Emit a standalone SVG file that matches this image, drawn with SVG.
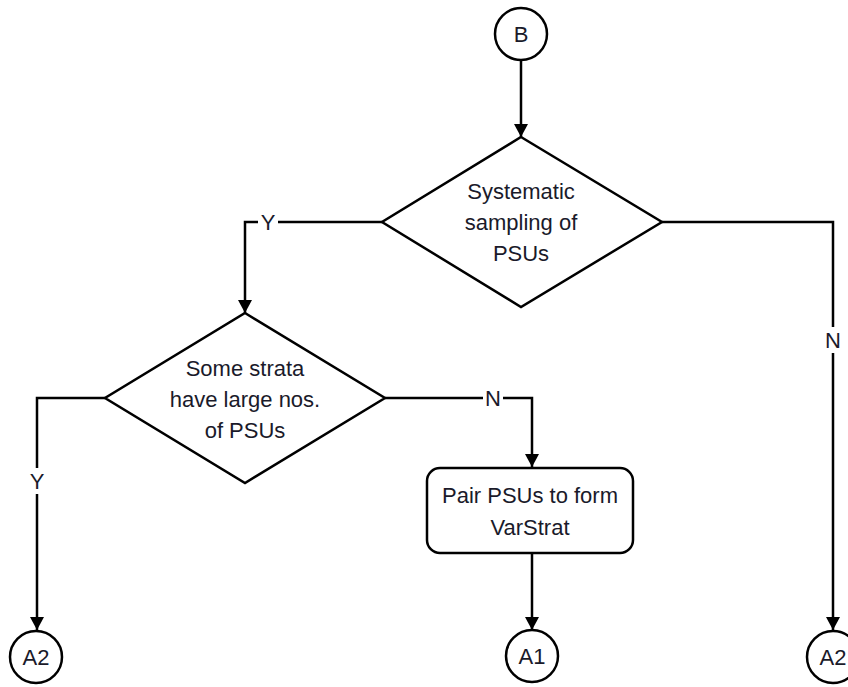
<svg xmlns="http://www.w3.org/2000/svg" width="848" height="687" viewBox="0 0 848 687">
<style>
.shape{fill:#fff;stroke:#000;stroke-width:2.5}
.conn{fill:none;stroke:#000;stroke-width:2.5}
text{font-family:"Liberation Sans",Arial,sans-serif;font-size:22px;fill:#1a1a2a;text-anchor:middle;dominant-baseline:central}
.lbl{fill:#fff;stroke:none}
</style>
<defs>
<marker id="arr" markerUnits="userSpaceOnUse" markerWidth="14" markerHeight="14" refX="13" refY="7" orient="auto">
<path d="M0,0 L13,7 L0,14 z" fill="#000"/>
</marker>
</defs>
<g id="connectors">
<path class="conn" d="M521,60 V137" marker-end="url(#arr)"/>
<path class="conn" d="M382,222 H245 V313" marker-end="url(#arr)"/>
<path class="conn" d="M662,222 H833 V630" marker-end="url(#arr)"/>
<path class="conn" d="M105,398 H37 V630" marker-end="url(#arr)"/>
<path class="conn" d="M385,398 H532 V467" marker-end="url(#arr)"/>
<path class="conn" d="M532,553 V630" marker-end="url(#arr)"/>
<rect class="lbl" x="258" y="209" width="20" height="26"/>
<text x="268" y="222">Y</text>
<rect class="lbl" x="823" y="327" width="20" height="26"/>
<text x="833" y="340">N</text>
<rect class="lbl" x="27" y="468" width="20" height="26"/>
<text x="37" y="481">Y</text>
<rect class="lbl" x="483" y="385" width="20" height="26"/>
<text x="493" y="398">N</text>
</g>
<g id="B">
<circle class="shape" cx="521" cy="34" r="26"/>
<text x="521" y="34">B</text>
</g>
<g id="d1">
<polygon class="shape" points="521,137 662,222 521,307 382,222"/>
<text x="521" y="191">Systematic</text>
<text x="521" y="222">sampling of</text>
<text x="521" y="253">PSUs</text>
</g>
<g id="d2">
<polygon class="shape" points="245,313 385,398 245,483 105,398"/>
<text x="245" y="368">Some strata</text>
<text x="245" y="399">have large nos.</text>
<text x="245" y="430">of PSUs</text>
</g>
<g id="box">
<rect class="shape" x="427" y="468" width="206" height="85" rx="13"/>
<text x="530" y="495">Pair PSUs to form</text>
<text x="530" y="527">VarStrat</text>
</g>
<g id="A2left">
<circle class="shape" cx="36" cy="657" r="26"/>
<text x="36" y="657">A2</text>
</g>
<g id="A1">
<circle class="shape" cx="532" cy="656" r="26"/>
<text x="532" y="656">A1</text>
</g>
<g id="A2right">
<circle class="shape" cx="833" cy="657" r="26"/>
<text x="833" y="657">A2</text>
</g>
</svg>
